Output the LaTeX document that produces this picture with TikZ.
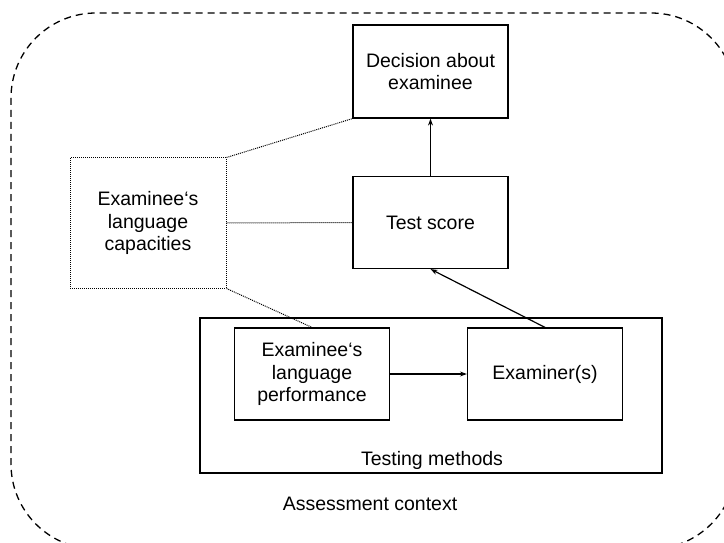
\documentclass[tikz,border=0pt]{standalone}
\usepackage{fontspec}
\setmainfont{Liberation Sans}
\usetikzlibrary{arrows.meta}
\begin{document}
\begin{tikzpicture}[x=1pt,y=-1pt,
  box/.style={draw, line width=1.2pt, inner sep=0pt},
  dotbox/.style={draw, line width=1pt, dash pattern=on 1pt off 1pt, inner sep=0pt},
  lbl/.style={align=center, font=\fontsize{19.5}{22.5}\selectfont},
  arr/.style={-{Stealth[length=7pt,width=5pt]}, line width=1.2pt},
  dotline/.style={line width=1pt, dash pattern=on 1pt off 1pt}]
\useasboundingbox (0,0) rectangle (724,543);
\begin{scope}
\clip (0,0) rectangle (724,543);
\draw[line width=1.3pt, dash pattern=on 7pt off 5pt, rounded corners=85pt] (11,13) rectangle (736,549);
\end{scope}
% boxes
\node[box, minimum width=155pt, minimum height=93pt] (dec) at (430.5,71.5) {};
\node[lbl] at (dec.center) {Decision about\\examinee};
\node[box, minimum width=155pt, minimum height=92pt] (ts) at (430.5,222.5) {};
\node[lbl] at (ts.center) {Test score};
\node[dotbox, minimum width=156pt, minimum height=130pt] (cap) at (148,223) {};
\node[lbl] at (cap.center) {Examinee‘s\\language\\capacities};
\node[box, minimum width=462pt, minimum height=155pt] (tm) at (431,395.5) {};
\node[lbl, anchor=base] (tmt) at (432,465) {Testing methods};
\node[box, minimum width=155pt, minimum height=92pt] (perf) at (312,374) {};
\node[lbl] at (perf.center) {Examinee‘s\\language\\performance};
\node[box, minimum width=155pt, minimum height=92pt] (exm) at (545,374) {};
\node[lbl] at (exm.center) {Examiner(s)};
\node[lbl, anchor=base] (ac) at (370,510) {Assessment context};
% connectors
\draw[arr] (ts.north) -- (dec.south);
\draw[arr] (exm.north) -- (ts.south);
\draw[arr] (perf.east) -- (exm.west);
\draw[dotline] (cap.north east) -- (dec.south west);
\draw[dotline] (cap.east) -- (ts.west);
\draw[dotline] (cap.south east) -- (perf.north);
\end{tikzpicture}
\end{document}
